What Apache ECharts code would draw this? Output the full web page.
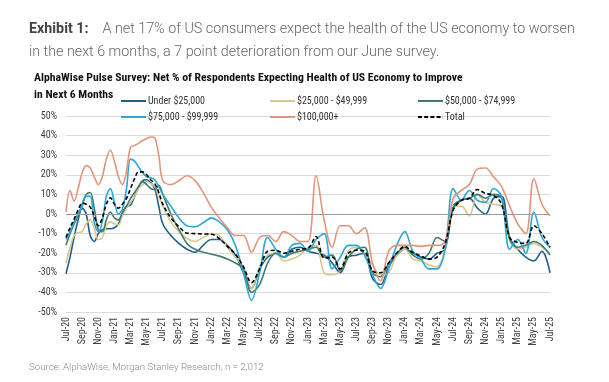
<!DOCTYPE html>
<html><head><meta charset="utf-8">
<script src="https://cdn.jsdelivr.net/npm/echarts@6/dist/echarts.min.js"></script>
<style>html,body{margin:0;padding:0;background:#fff}#c{width:609px;height:382px}</style>
</head><body><div id="c"></div>
<script>
// x positions of survey waves, in months since Jul-20
const surveyMonths = [0,0.5,1,1.5,2,2.5,3,3.5,4,4.5,5,5.5,6,6.5,7,7.5,8,8.5,9,9.5,10,10.5,11,11.5,12,
  13,14,15,16,17,18,19,20,21,22,23,24,25,26,27,28,29,30,31,32,33,34,35,36,37,38,39,40,
  41,42,43,44,45,46,47,48,49,50,51,52,53,54,55,56,57,58,59,60];
const tickLabels = ['Jul-20','Sep-20','Nov-20','Jan-21','Mar-21','May-21','Jul-21','Sep-21','Nov-21',
  'Jan-22','Mar-22','May-22','Jul-22','Sep-22','Nov-22','Jan-23','Mar-23','May-23','Jul-23','Sep-23','Nov-23',
  'Jan-24','Mar-24','May-24','Jul-24','Sep-24','Nov-24','Jan-25','Mar-25','May-25','Jul-25'];
const seriesNames = ['Under $25,000','$25,000 - $49,999','$50,000 - $74,999','$75,000 - $99,999','$100,000+','Total'];
const under25 = [-30.5,-22,-12,-3,3,0,-11,-14,-10,-8,-7.5,-7.5,-7,-5,0,4,4.5,9,14,17,17.5,16,13,4,-5,
  -11,-15,-18,-19.5,-16,-13,-13,-16,-21,-30,-38,-28,-22,-20,-22,-18,-17,-19,-20,-21,-25,-30,-22,-21,-20,-33,-36,-27,
  -21,-18,-20,-22,-23,-20,-18,4,7,8,3,0,8,9,-12,-18,-22,-24,-19,-30];
const inc25to49 = [-25,-17,-11,-9.5,-9,-5,-3,-7,-13,-12,-6,-4,-5,-5.5,-1,3,6,9,13,15,16.5,15.5,14,9,4,
  -4,-9,-12.5,-14,-12,-10,-11,-17,-22,-27,-38,-27,-21,-20,-24,-23,-21,-17,-16,-30,-31,-29,-19,-17,-20,-26,-31,-30,
  -21,-18,-23,-24,-26,-27,-18,4,4,-1,10,6,5,4,-13,-18,-17,-15,-17,-20];
const inc50to74 = [-16,-10,-5,-1,5,10,11,3,-8,-9,-3,1,-2,-3,1,4,8,11,14,16.5,15,13,12.5,14.5,10,
  0,-8,-15,-18,-19.5,-20.5,-21.5,-23,-25,-28,-40,-36,-25,-20,-22,-20,-19,-18,-17,-22,-21,-29,-22,-18,-17,-30,-32,-25,
  -20,-17,-21,-23,-20,-12,-14,3,7,8,10,8,10,8,-13,-17,-16,-14,-16,-21];
const inc75to99 = [-13,-9,-4,0,4,9,9,-4,-9,-4,9,13,6,0,2.5,13,28,27,24,21,19,18.5,17.5,14,10,
  4,-2,-6,-6.5,-4.5,-2,-4,-8,-16,-30,-44,-30,-12,-18,-22,-16,-15,-19,-13,-10,-28,-22,-16,-16,-21,-31,-38,-28,
  -16,-9,-19,-23,-28,-28,-18,13,7,12,7,6,13,9,-18,-13,-20,1,-12,-17];
const inc100plus = [1,12,6.5,13,21,24.7,23.5,19,15,19,28,32.5,27,19,15,22,34,35,36,37.5,38.5,39.3,38.8,30,17,
  15,17,19.5,17,11,3.5,-2,-7,-11,-11,-19.5,-12,-11,-14,-9,-11,-14,-14,19.5,-3,-17,-6,-6,-10,-7,-25,-34,-19,
  -16,-16,-16,-16.5,-16,-16,-14,8,12,15,23,23.5,19,14,4,-5,-10,18,5,-1];
const total = [-12,-7,-2.7,2,5.5,5,3.5,-1,-6,-2,5,8.3,5,3,5,8,13,18,21.5,21.5,20,17.5,15.5,11,5,
  -2,-6.5,-9.8,-10,-10.2,-10.3,-12.5,-16.5,-20.5,-27,-35,-28,-19,-18.5,-20,-19,-18,-17.5,-11.5,-22.5,-22,-28,-20,-18.5,-19,-29,-30,-25,
  -20,-16.5,-19.7,-21.4,-23,-22,-15,2,7,8,12.5,10.5,9.5,5,-12,-14.5,-15,-6,-10,-17];

const colors = ['#1f5f8b','#d8c78e','#3f7c6c','#2aa8d6','#e3957c','#000000'];
const values = [under25, inc25to49, inc50to74, inc75to99, inc100plus, total];
const narrow = "'Roboto Condensed','Liberation Sans Narrow','Arial Narrow','DejaVu Sans Condensed',Roboto,sans-serif";

const series = values.map((arr, i) => ({
  name: seriesNames[i],
  type: 'line',
  smooth: 0.35,
  showSymbol: false,
  symbol: 'none',
  data: arr.map((v, k) => [surveyMonths[k], v]),
  lineStyle: { color: colors[i], width: 1.6, type: i === 5 ? [4, 2.5] : 'solid' },
  itemStyle: { color: colors[i] },
  z: i === 5 ? 5 : 3,
  markLine: i === 0 ? { silent: true, symbol: 'none', label: { show: false },
    lineStyle: { color: '#9a9a9a', width: 1, type: 'solid' }, data: [{ yAxis: 0 }] } : undefined
}));

const solidIcon = 'path://M0,0H25V2H0Z';
const dashIcon = 'path://M0,0H4V2H0Z M6.2,0H10.2V2H6.2Z M12.4,0H16.4V2H12.4Z M18.6,0H22.6V2H18.6Z M24.8,0H25V2H24.8Z';
const legendPos = [[121,96],[270,96],[418,96],[121,112],[270,112],[418,112]];
const legends = seriesNames.map((n, i) => ({
  data: [{ name: n, icon: i === 5 ? dashIcon : solidIcon, itemStyle: { color: colors[i] } }],
  left: legendPos[i][0], top: legendPos[i][1], padding: 0,
  itemWidth: 25, itemHeight: 2, selectedMode: false,
  textStyle: { fontSize: 10, color: '#333', fontFamily: narrow, padding: [0, 0, 0, -3] }
}));

const chart = echarts.init(document.getElementById('c'), null, { renderer: 'canvas' });
chart.setOption({
  animation: false,
  backgroundColor: '#fff',
  color: colors,
  title: [
    { left: 24, top: 17, text: '{b|Exhibit 1:}    A net 17% of US consumers expect the health of the US economy to worsen',
      textStyle: { fontSize: 14.3, color: '#666', fontWeight: 300, fontFamily: 'Roboto',
        rich: { b: { fontSize: 14.3, color: '#444', fontWeight: 'bold', fontFamily: 'Roboto' } } } },
    { left: 24, top: 40, text: 'in the next 6 months, a 7 point deterioration from our June survey.',
      textStyle: { fontSize: 14.3, color: '#666', fontWeight: 300, fontFamily: 'Roboto' } },
    { left: 29, top: 65, text: 'AlphaWise Pulse Survey: Net % of Respondents Expecting Health of US Economy to Improve\nin Next 6 Months',
      textStyle: { fontSize: 11.7, lineHeight: 17, color: '#111', fontWeight: 'bold', fontFamily: narrow } },
    { left: 24, top: 358, text: 'Source: AlphaWise, Morgan Stanley Research, n = 2,012',
      textStyle: { fontSize: 9.7, color: '#8a8a8a', fontWeight: 300, fontFamily: 'Roboto' } }
  ],
  legend: legends,
  grid: { left: 66, right: 59, top: 116, bottom: 70, containLabel: false },
  xAxis: {
    type: 'value', min: 0, max: 60, interval: 2,
    axisLine: { show: false }, axisTick: { show: false }, splitLine: { show: false },
    axisLabel: { rotate: 90, margin: 5, fontSize: 10, color: '#404040', fontFamily: narrow,
      formatter: v => tickLabels[Math.round(v / 2)] }
  },
  yAxis: {
    type: 'value', min: -50, max: 50, interval: 10,
    axisLine: { show: false }, axisTick: { show: false },
    splitLine: { lineStyle: { color: '#dadada', width: 1 } },
    axisLabel: { formatter: '{value}%', margin: 9, fontSize: 10, color: '#404040', fontFamily: narrow }
  },
  series: series
});
</script></body></html>
